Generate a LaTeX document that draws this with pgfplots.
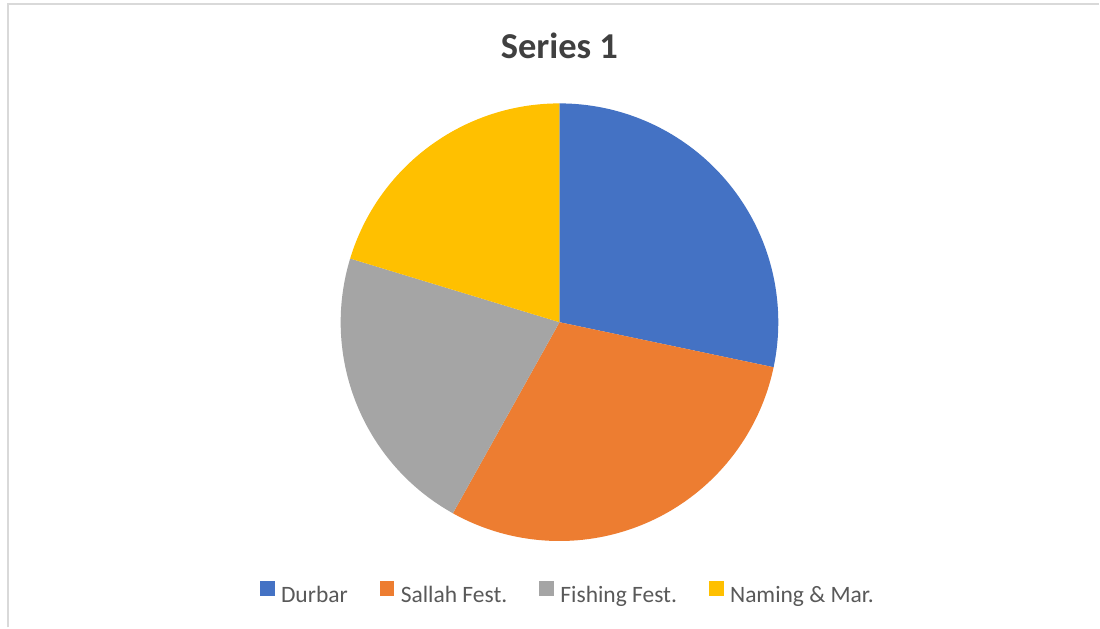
\documentclass[border=0pt]{standalone}
\usepackage{fontspec}
\setmainfont{Carlito}
\usepackage{pgfplots}
\usepackage{pgfplotstable}
\pgfplotsset{compat=1.18}
\definecolor{cDur}{HTML}{4472C4}
\definecolor{cSal}{HTML}{ED7D31}
\definecolor{cFis}{HTML}{A5A5A5}
\definecolor{cNam}{HTML}{FFC000}
\definecolor{txt}{HTML}{595959}
\definecolor{ttl}{HTML}{404040}
\definecolor{frame}{HTML}{D9D9D9}
\pgfplotstableread{
value
28.3
29.8
21.6
20.3
}\piedata
\begin{document}
\begin{tikzpicture}
\pgfplotstablegetelem{0}{value}\of\piedata \let\vA\pgfplotsretval
\pgfplotstablegetelem{1}{value}\of\piedata \let\vB\pgfplotsretval
\pgfplotstablegetelem{2}{value}\of\piedata \let\vC\pgfplotsretval
\pgfplotstablegetelem{3}{value}\of\piedata \let\vD\pgfplotsretval
\pgfmathsetmacro\tot{\vA+\vB+\vC+\vD}%
\pgfmathsetmacro\aA{90}%
\pgfmathsetmacro\aB{\aA-360*\vA/\tot}%
\pgfmathsetmacro\aC{\aB-360*\vB/\tot}%
\pgfmathsetmacro\aD{\aC-360*\vC/\tot}%
\pgfmathsetmacro\aE{\aD-360*\vD/\tot}%
\begin{axis}[
  width=1100pt, height=628pt, scale only axis,
  xmin=0, xmax=1100, ymin=0, ymax=628,
  hide axis, clip=false,
  title={Series 1},
  title style={at={(0.509,0.917)}, anchor=center, font=\fontsize{36.5}{40}\selectfont\bfseries, text=ttl},
  legend columns=4,
  legend image code/.code={\fill[#1] (0pt,-0.5pt) rectangle (13.7pt,13.5pt);},
  legend style={at={(axis cs:260,35)}, anchor=west, draw=none, fill=none,
    inner sep=0pt, text=txt, font=\fontsize{23.5}{27}\selectfont,
    nodes={inner sep=0pt},
    /tikz/every odd column/.append style={column sep=7pt},
    /tikz/every even column/.append style={column sep=32pt}},
]
\path[fill=white] (axis cs:0,0) rectangle (axis cs:1100,628);
\draw[frame, line width=2pt] (axis cs:8,0) -- (axis cs:8,623.5) -- (axis cs:1100,623.5);
\fill[cDur] (axis cs:560,305.5) -- ++(\aA:219pt) arc[start angle=\aA, end angle=\aB, radius=219pt] -- cycle;
\fill[cSal] (axis cs:560,305.5) -- ++(\aB:219pt) arc[start angle=\aB, end angle=\aC, radius=219pt] -- cycle;
\fill[cFis] (axis cs:560,305.5) -- ++(\aC:219pt) arc[start angle=\aC, end angle=\aD, radius=219pt] -- cycle;
\fill[cNam] (axis cs:560,305.5) -- ++(\aD:219pt) arc[start angle=\aD, end angle=\aE, radius=219pt] -- cycle;
\addlegendimage{cDur}\addlegendentry{Durbar}
\addlegendimage{cSal}\addlegendentry{Sallah Fest.}
\addlegendimage{cFis}\addlegendentry{Fishing Fest.}
\addlegendimage{cNam}\addlegendentry{Naming \& Mar.}
\end{axis}
\end{tikzpicture}
\end{document}
